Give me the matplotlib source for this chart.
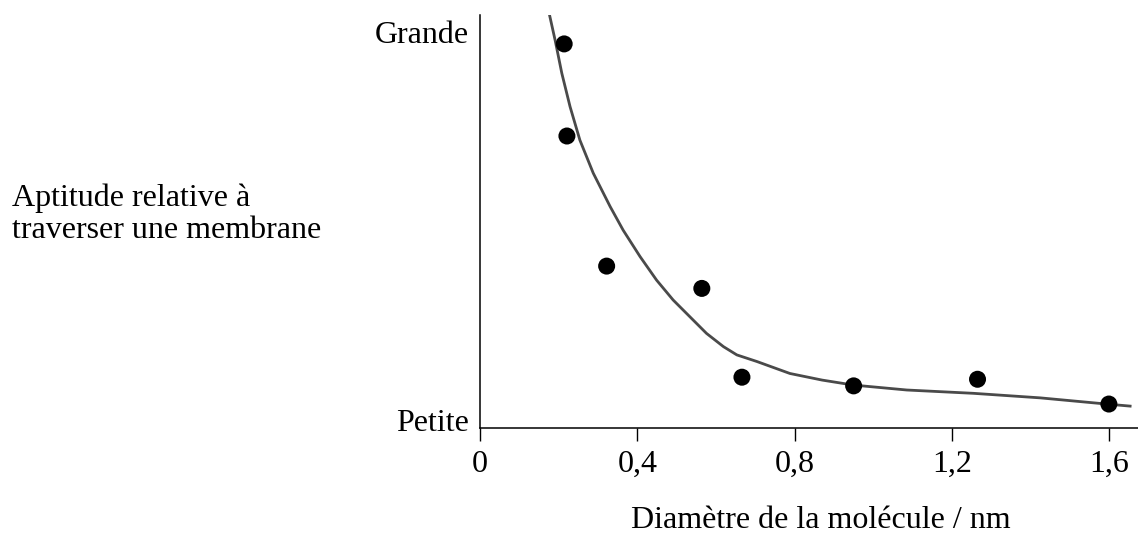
"""Membrane permeability vs. molecular diameter."""
import matplotlib
matplotlib.use("Agg")
import matplotlib.pyplot as plt

# --- data ---
diameter = [0.214, 0.221, 0.322, 0.564, 0.666, 0.950, 1.265, 1.599]
aptitude = [0.930, 0.707, 0.392, 0.338, 0.123, 0.102, 0.118, 0.058]

curve_x = [0.174, 0.191, 0.208, 0.229, 0.254, 0.288, 0.331, 0.364, 0.407, 0.449,
           0.491, 0.534, 0.576, 0.619, 0.653, 0.704, 0.788, 0.870, 0.949,
           1.085, 1.254, 1.424, 1.593, 1.653]
curve_y = [1.012, 0.939, 0.859, 0.778, 0.697, 0.617, 0.536, 0.479, 0.415, 0.358,
           0.310, 0.269, 0.229, 0.197, 0.177, 0.161, 0.132, 0.116, 0.104,
           0.092, 0.084, 0.073, 0.058, 0.053]

x_ticks = [0, 0.4, 0.8, 1.2, 1.6]
x_tick_labels = ["0", "0,4", "0,8", "1,2", "1,6"]
y_ticks = [0.019, 0.959]
y_tick_labels = ["Petite", "Grande"]

plt.rcParams["font.family"] = ["Liberation Serif", "DejaVu Serif"]

W, H, DPI = 1138, 538, 100
fig = plt.figure(figsize=(W / DPI, H / DPI), dpi=DPI)
ax = fig.add_axes([480 / W, 1 - 428 / H, (W - 480) / W, 413 / H])

ax.plot(curve_x, curve_y, color="#4a4a4a", linewidth=2.0, solid_joinstyle="round")
ax.scatter(diameter, aptitude, s=150, color="black", edgecolors="none", zorder=3)

ax.set_xlim(0, (W - 480) / 393.3)
ax.set_ylim(0, 1)

for side in ("top", "right"):
    ax.spines[side].set_visible(False)
for side in ("left", "bottom"):
    ax.spines[side].set_linewidth(1.1)

ax.set_xticks(x_ticks)
ax.set_xticklabels(x_tick_labels)
ax.tick_params(axis="x", direction="out", length=9.5, width=1.0, pad=6, labelsize=23)
ax.set_yticks(y_ticks)
ax.set_yticklabels(y_tick_labels)
ax.tick_params(axis="y", length=0, pad=8, labelsize=23)

fig.text(821 / W, 1 - 528 / H, "Diamètre de la molécule / nm", fontsize=23,
         ha="center", va="baseline")
fig.text(12 / W, 1 - 214 / H, "Aptitude relative à\ntraverser une membrane", fontsize=23,
         ha="left", va="center", linespacing=1.15)

fig.savefig("out.png", dpi=DPI)
plt.close(fig)
